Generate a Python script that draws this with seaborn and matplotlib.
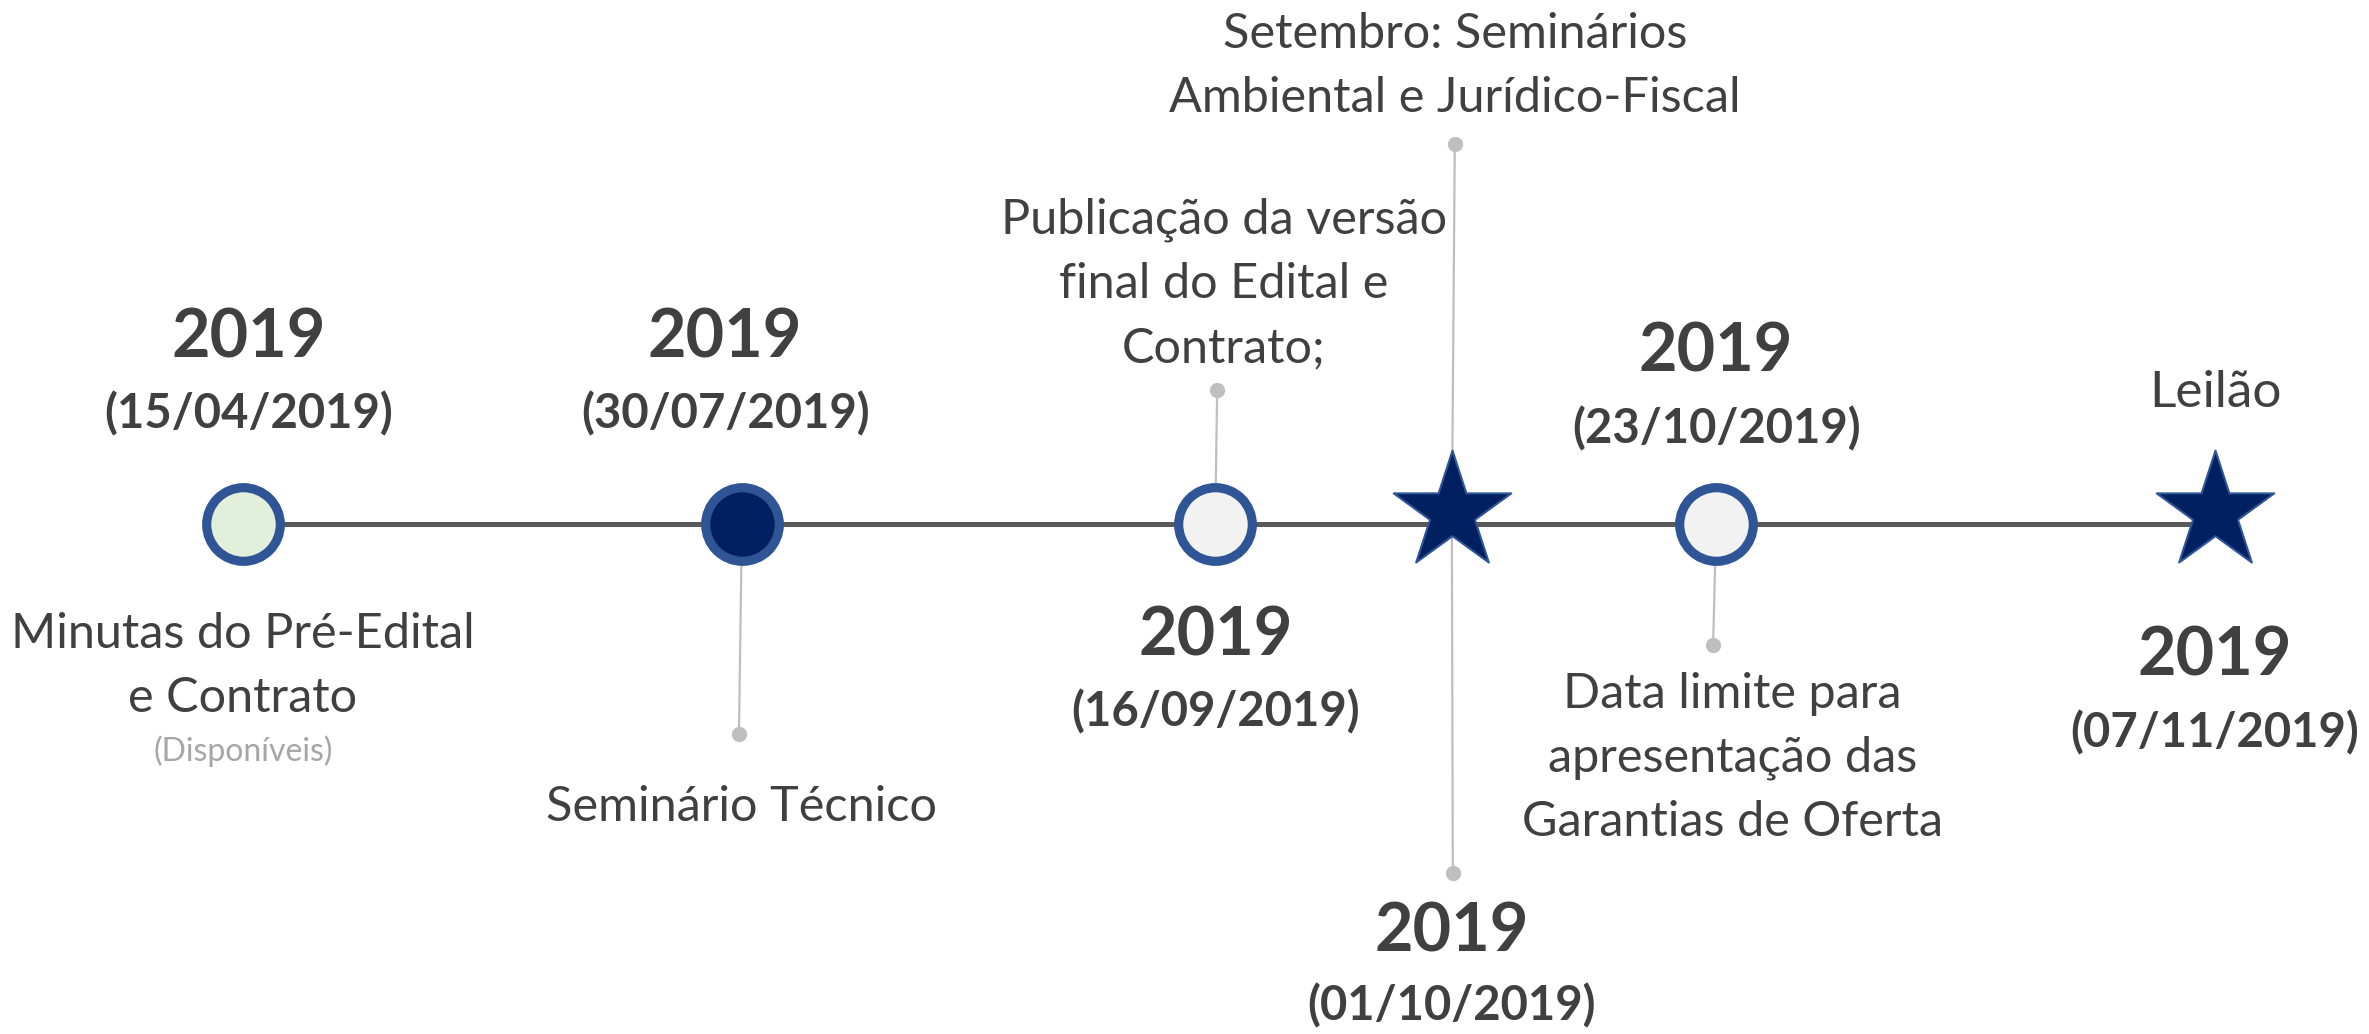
import matplotlib
matplotlib.use("Agg")
import matplotlib.pyplot as plt
import seaborn as sns
import pandas as pd

sns.set_theme(style="white")
plt.rcParams['font.family'] = ['Lato', 'DejaVu Sans']

# ---- data ----
event_slot = [0.0, 1.012, 1.972, 2.452, 2.988, 4.0]
event_kind = ["circle", "circle", "circle", "star", "circle", "star"]
event_year = ["2019", "2019", "2019", "2019", "2019", "2019"]
event_date = ["(15/04/2019)", "(30/07/2019)", "(16/09/2019)", "(01/10/2019)", "(23/10/2019)", "(07/11/2019)"]
event_desc = [
    "Minutas do Pré-Edital\ne Contrato",
    "Seminário Técnico",
    "Publicação da versão\nfinal do Edital e\nContrato;",
    "Setembro: Seminários\nAmbiental e Jurídico-Fiscal",
    "Data limite para\napresentação das\nGarantias de Oferta",
    "Leilão",
]
event_note = ["(Disponíveis)", "", "", "", "", ""]

df = pd.DataFrame({"slot": event_slot, "kind": event_kind, "year": event_year,
                   "date": event_date, "desc": event_desc})

# ---- figure (pixel-like layout units) ----
W, H = 2369, 1034
fig = plt.figure(figsize=(W / 100, H / 100), dpi=100)
ax = fig.add_axes([0, 0, 1, 1])
px0, pxs = 243, 493.0          # slot 0 -> x pixel, pixels per slot
ax.set_xlim(-px0 / pxs, (W - px0) / pxs)
ax.set_ylim(H, 0)
ax.axis("off")
LINE_Y = 524

TXT = "#404040"
GRAY = "#BFBFBF"
EDGE = "#2F5597"
NAVY = "#002060"

# timeline
tl = pd.DataFrame({"slot": [df.slot.min(), df.slot.max()], "y": [LINE_Y, LINE_Y]})
sns.lineplot(data=tl, x="slot", y="y", ax=ax, color="#595959", linewidth=3.6, zorder=1, legend=False)

def conn(i, y_end, dx=0.0):
    s = df.slot[i]
    ax.plot([s, s + dx], [LINE_Y, y_end], color=GRAY, lw=1.6, zorder=0.5, solid_capstyle="butt")
    ax.plot([s + dx], [y_end], marker="o", ms=11, color=GRAY, zorder=0.6, mec="none")

conn(1, 734, -0.006)
conn(2, 390, 0.004)
conn(3, 144, 0.006)
conn(3, 873, 0.002)
conn(4, 645, -0.006)

# circle markers
circ = df[df.kind == "circle"].copy()
fills = ["#E2EFDA", NAVY, "#F2F2F2", "#F2F2F2"]
for (idx, row), fc in zip(circ.iterrows(), fills):
    sns.scatterplot(x=[row.slot], y=[LINE_Y], ax=ax, s=53**2, marker="o",
                    color=fc, edgecolor=EDGE, linewidth=6.6, zorder=3, legend=False)

# star markers
stars = df[df.kind == "star"]
sns.scatterplot(x=stars.slot, y=[LINE_Y - 12] * len(stars), ax=ax, s=89**2, marker="*",
                color=NAVY, edgecolor=EDGE, linewidth=1.5, zorder=3, legend=False)

def t(s, y, txt, size, weight="normal", color=TXT, dx=0.0, ls=1.2):
    ax.text(s + dx, y, txt, ha="center", va="center", fontsize=size, fontweight=weight,
            color=color, linespacing=ls, zorder=4)

YS, DS, BS = 48, 34, 35
LS = 1.55

# event 0
s = df.slot[0]
t(s, 338, df.year[0], YS, "bold", dx=0.012)
t(s, 414, df.date[0], DS, "bold", dx=0.012)
t(s, 666, df.desc[0], BS, ls=LS)
t(s, 751, event_note[0], 23, color="#A6A6A6")

# event 1
s = df.slot[1]
t(s, 338, df.year[1], YS, "bold", dx=-0.034)
t(s, 414, df.date[1], DS, "bold", dx=-0.034)
t(s, 807, df.desc[1], BS)

# event 2
s = df.slot[2]
t(s, 284, df.desc[2], BS, dx=0.018, ls=LS)
t(s, 636, df.year[2], YS, "bold")
t(s, 712, df.date[2], DS, "bold")

# event 3
s = df.slot[3]
t(s, 66, df.desc[3], BS, dx=0.006, ls=LS)
t(s, 932, df.year[3], YS, "bold")
t(s, 1006, df.date[3], DS, "bold")

# event 4
s = df.slot[4]
t(s, 352, df.year[4], YS, "bold")
t(s, 429, df.date[4], DS, "bold")
t(s, 758, df.desc[4], BS, dx=0.033, ls=LS)

# event 5
s = df.slot[5]
t(s, 393, df.desc[5], BS + 2)
t(s, 656, df.year[5], YS, "bold")
t(s, 733, df.date[5], DS, "bold")

fig.savefig("out.png", dpi=100, facecolor="white")
